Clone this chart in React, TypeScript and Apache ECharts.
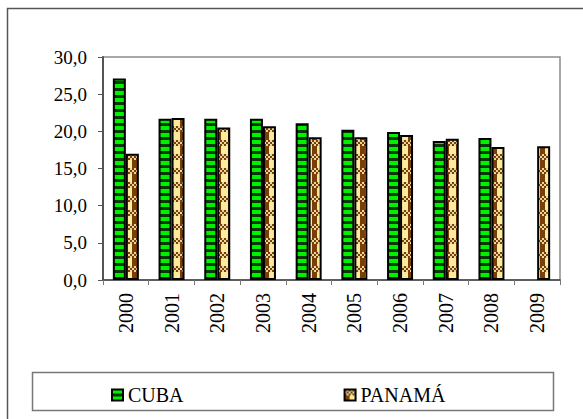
import React, { useEffect, useRef } from "react";
import * as echarts from "echarts";

const years = ["2000", "2001", "2002", "2003", "2004", "2005", "2006", "2007", "2008", "2009"];
const cuba: (number | null)[] = [27.1, 21.7, 21.7, 21.7, 21.1, 20.2, 19.9, 18.7, 19.1, null];
const panama: number[] = [17.0, 21.8, 20.5, 20.7, 19.2, 19.2, 19.5, 19.0, 17.9, 18.0];
const seriesNames = ["CUBA", "PANAMÁ"];

function makeTile(w: number, h: number, draw: (ctx: CanvasRenderingContext2D) => void) {
  const c = document.createElement("canvas");
  c.width = w;
  c.height = h;
  const ctx = c.getContext("2d")!;
  draw(ctx);
  return { image: c.toDataURL(), repeat: "repeat", imageWidth: w, imageHeight: h } as any;
}

export default function App() {
  const ref = useRef<HTMLDivElement>(null);
  useEffect(() => {
    if (!ref.current) return;
    const chart = echarts.init(ref.current, undefined, { renderer: "svg" });

    const greenPattern = makeTile(4, 7, (ctx) => {
      ctx.fillStyle = "#063806";
      ctx.fillRect(0, 0, 4, 7);
      ctx.fillStyle = "#00f000";
      ctx.fillRect(0, 0, 4, 4);
    });
    const brownPattern = makeTile(12, 14, (ctx) => {
      ctx.fillStyle = "#fbeb9c";
      ctx.fillRect(0, 0, 12, 14);
      ctx.fillStyle = "#7a3e06";
      ctx.fillRect(0, 0, 5, 14);
      for (let y = 0; y < 6; y++) {
        for (let x = 0; x < 12; x++) {
          ctx.fillStyle = ((x >> 1) + (y >> 1)) % 2 === 0 ? "#7a3e06" : "#e8d8a0";
          ctx.fillRect(x, y, 1, 1);
        }
      }
    });

    const font = "Liberation Serif";
    const txt = (size: number) => ({
      fontFamily: font,
      fontSize: size,
      fontWeight: "normal" as const,
      color: "#000",
    });

    chart.setOption({
      animation: false,
      backgroundColor: "#ffffff",
      grid: {
        left: 103,
        top: 57,
        right: 23,
        bottom: 139,
        show: true,
        borderColor: "#8c8c8c",
        borderWidth: 1.5,
        containLabel: false,
      },
      legend: {
        data: seriesNames,
        left: 106,
        top: 380,
        itemWidth: 11,
        itemHeight: 11,
        itemGap: 160,
        icon: "rect",
        textStyle: txt(20),
      },
      graphic: [
        {
          type: "rect",
          shape: { x: 7.5, y: 8.5, width: 700, height: 700 },
          style: { fill: "none", stroke: "#555", lineWidth: 1.5 },
          silent: true,
          z: -10,
        },
        {
          type: "rect",
          shape: { x: 32.5, y: 372.5, width: 521, height: 38 },
          style: { fill: "none", stroke: "#777", lineWidth: 1.5 },
          silent: true,
        },
      ],
      xAxis: {
        type: "category",
        data: years,
        axisLine: { lineStyle: { color: "#444", width: 1.5 } },
        axisTick: { show: true, alignWithLabel: false, length: 5, lineStyle: { color: "#777" } },
        axisLabel: {
          rotate: 90,
          margin: 13,
          ...txt(20),
        },
      },
      yAxis: {
        type: "value",
        min: 0,
        max: 30,
        interval: 5,
        splitLine: { show: false },
        axisLine: { show: true, lineStyle: { color: "#555", width: 2 } },
        axisTick: { show: true, length: 5, lineStyle: { color: "#555" } },
        axisLabel: {
          margin: 16,
          ...txt(19),
          formatter: (v: number) => v.toFixed(1).replace(".", ","),
        },
      },
      series: [
        {
          name: seriesNames[0],
          type: "bar",
          data: cuba,
          barWidth: 13,
          barGap: "0%",
          itemStyle: { color: greenPattern, borderColor: "#000", borderWidth: 2 },
        },
        {
          name: seriesNames[1],
          type: "bar",
          data: panama,
          barWidth: 13,
          itemStyle: { color: brownPattern, borderColor: "#000", borderWidth: 2 },
        },
      ],
    });
    return () => chart.dispose();
  }, []);
  return (
    <div
      ref={ref}
      style={{ position: "fixed", left: 0, top: 0, width: 583, height: 419, background: "#fff" }}
    />
  );
}
